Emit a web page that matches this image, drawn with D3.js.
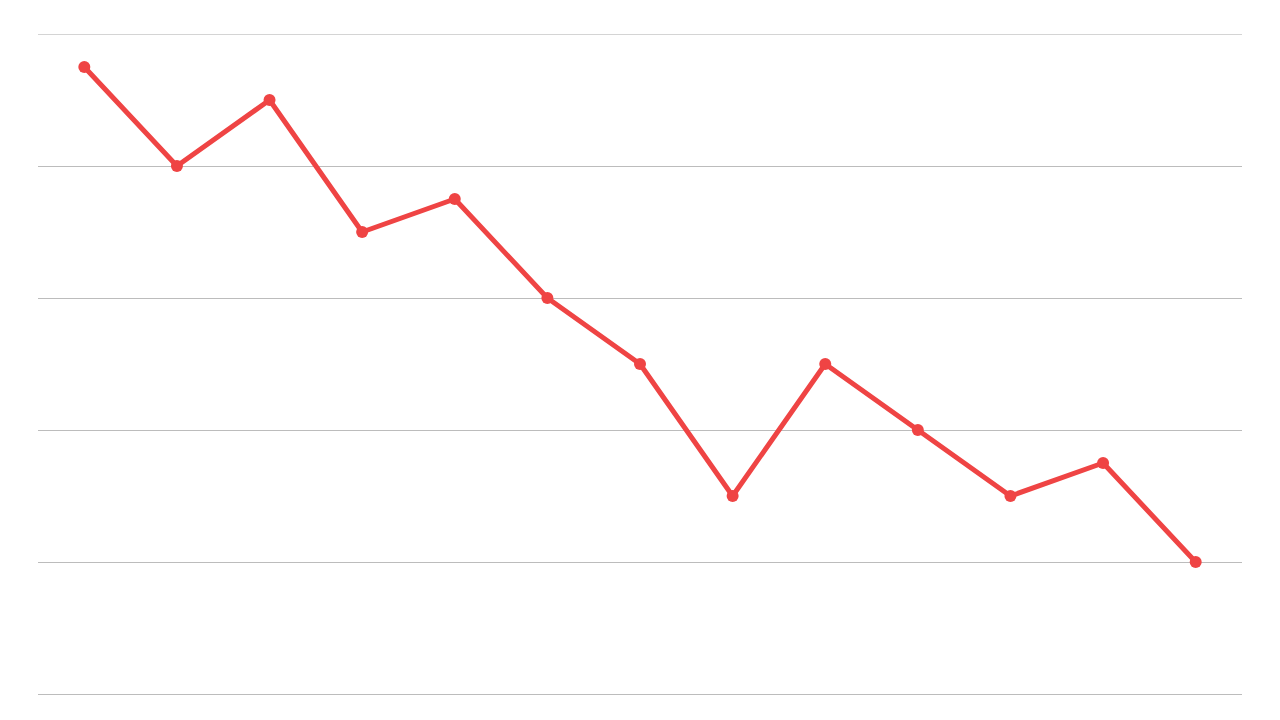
<!DOCTYPE html>
<html>
<head>
<meta charset="utf-8">
<script src="https://cdn.jsdelivr.net/npm/d3@7"></script>
<style>
  html, body { margin: 0; padding: 0; background: #fff; }
  svg { display: block; }
</style>
</head>
<body>
<svg class="container"></svg>
<script>
// one point per period, 13 periods
const periods = ["1", "2", "3", "4", "5", "6", "7", "8", "9", "10", "11", "12", "13"];
const values = [95, 80, 90, 70, 75, 60, 50, 30, 50, 40, 30, 35, 20];
const yTicks = [0, 20, 40, 60, 80, 100];

const width = 1280, height = 720;
const margin = { top: 34, right: 38, bottom: 26, left: 38 };

const svg = d3.select(".container").attr("width", width).attr("height", height);

const xScale = d3.scalePoint().domain(periods)
  .range([margin.left, width - margin.right]).padding(0.5);
const yScale = d3.scaleLinear().domain([0, 100])
  .range([height - margin.bottom, margin.top]);

// horizontal gridlines, top one a bit lighter
svg.append("g").attr("class", "grid")
  .selectAll("line").data(yTicks).join("line")
  .attr("x1", margin.left)
  .attr("x2", width - margin.right)
  .attr("y1", d => Math.round(yScale(d)) + 0.5)
  .attr("y2", d => Math.round(yScale(d)) + 0.5)
  .attr("stroke", d => d === 100 ? "#d4d4d4" : "#bcbcbc")
  .attr("stroke-width", 1);

const data = periods.map((p, i) => ({ p, v: values[i] }));

const lineGen = d3.line()
  .x(d => xScale(d.p))
  .y(d => yScale(d.v));

svg.append("path")
  .datum(data)
  .attr("d", lineGen)
  .attr("fill", "none")
  .attr("stroke", "#ef4444")
  .attr("stroke-width", 5)
  .attr("stroke-linejoin", "round");

svg.append("g").selectAll("circle").data(data).join("circle")
  .attr("cx", d => xScale(d.p))
  .attr("cy", d => yScale(d.v))
  .attr("r", 6)
  .attr("fill", "#ef4444");
</script>
</body>
</html>
